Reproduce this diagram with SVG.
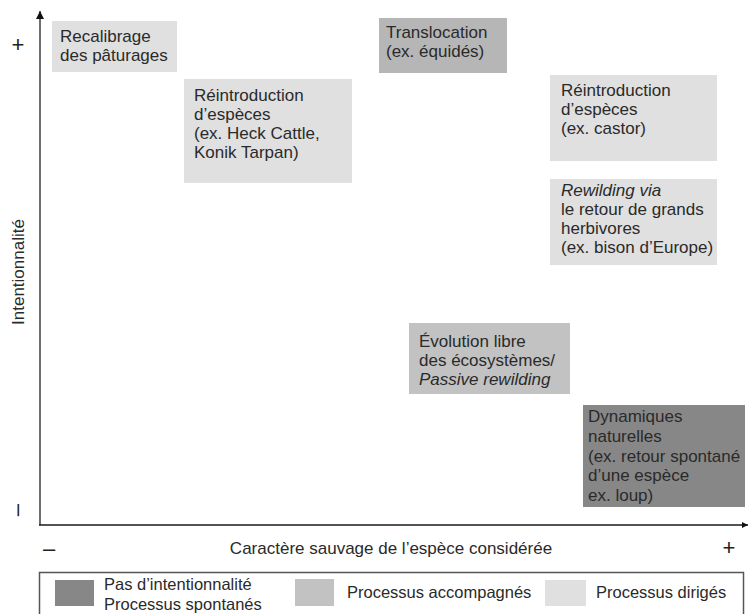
<svg xmlns="http://www.w3.org/2000/svg" width="748" height="614" viewBox="0 0 748 614">
<style>
text{font-family:"Liberation Sans",Arial,sans-serif;font-size:17px;fill:#2a2a2a}
.it{font-style:italic}
.sign{font-size:22px;fill:#222}
.light{fill:#e0e0e0}
.med{fill:#c2c2c2}
.med2{fill:#b6b6b6}
.dark{fill:#878787}
.lg{font-size:16.5px}
</style>
<defs>
<marker id="ah" viewBox="0 0 10 10" refX="10" refY="5" markerWidth="8" markerHeight="8" markerUnits="userSpaceOnUse" orient="auto">
<path d="M0,0 L10,5 L0,10 z" fill="#111"/>
</marker>
<marker id="ah2" viewBox="0 0 10 10" refX="10" refY="5" markerWidth="6" markerHeight="6" markerUnits="userSpaceOnUse" orient="auto">
<path d="M0,0 L10,5 L0,10 z" fill="#111"/>
</marker>
</defs>
<rect width="748" height="614" fill="#fff"/>

<g id="axes">
<line x1="40" y1="525" x2="40" y2="11" stroke="#6e6e6e" stroke-width="2" marker-end="url(#ah)"/>
<line x1="39" y1="525" x2="748" y2="525" stroke="#1a1a1a" stroke-width="1.6" marker-end="url(#ah2)"/>
</g>

<g id="axis-labels">
<text class="sign" x="18" y="52" text-anchor="middle">+</text>
<text class="sign" transform="translate(24,510) rotate(-90)" text-anchor="middle">–</text>
<text transform="translate(24,272) rotate(-90)" text-anchor="middle">Intentionnalité</text>
<text class="sign" x="49" y="556" text-anchor="middle">–</text>
<text x="391" y="554" text-anchor="middle">Caractère sauvage de l’espèce considérée</text>
<text class="sign" x="729" y="555" text-anchor="middle">+</text>
</g>

<g id="recalibrage">
<rect class="light" x="52" y="21" width="125" height="51"/>
<text x="60" y="42">Recalibrage</text>
<text x="60" y="61">des pâturages</text>
</g>

<g id="reintroduction-heck">
<rect class="light" x="184" y="79" width="168" height="104"/>
<text x="194" y="101">Réintroduction</text>
<text x="194" y="120">d’espèces</text>
<text x="194" y="139">(ex. Heck Cattle,</text>
<text x="194" y="158">Konik Tarpan)</text>
</g>

<g id="translocation">
<rect class="med2" x="379" y="18" width="128" height="55"/>
<text x="386" y="38">Translocation</text>
<text x="386" y="57">(ex. équidés)</text>
</g>

<g id="reintroduction-castor">
<rect class="light" x="550" y="75" width="167" height="86"/>
<text x="561" y="96">Réintroduction</text>
<text x="561" y="115">d’espèces</text>
<text x="561" y="134">(ex. castor)</text>
</g>

<g id="rewilding">
<rect class="light" x="550" y="179" width="167" height="86"/>
<text x="561" y="196" class="it">Rewilding via</text>
<text x="561" y="215">le retour de grands</text>
<text x="561" y="234">herbivores</text>
<text x="561" y="253">(ex. bison d’Europe)</text>
</g>

<g id="evolution">
<rect class="med" x="409" y="323" width="161" height="71"/>
<text x="419" y="347">Évolution libre</text>
<text x="419" y="366">des écosystèmes/</text>
<text x="419" y="385" class="it">Passive rewilding</text>
</g>

<g id="dynamiques">
<rect class="dark" x="583" y="405" width="162" height="102"/>
<text x="588" y="422">Dynamiques</text>
<text x="588" y="441.8">naturelles</text>
<text x="588" y="461.6">(ex. retour spontané</text>
<text x="588" y="481.4">d’une espèce</text>
<text x="588" y="501.2">ex. loup)</text>
</g>

<g id="legend">
<rect x="39.5" y="572.5" width="704" height="50" fill="none" stroke="#555" stroke-width="1.5"/>
<rect class="dark" x="55" y="580" width="39" height="26"/>
<text class="lg" x="104" y="590">Pas d’intentionnalité</text>
<text class="lg" x="104" y="610">Processus spontanés</text>
<rect class="med" x="295" y="579" width="39" height="27"/>
<text class="lg" x="347" y="598">Processus accompagnés</text>
<rect class="light" x="545" y="580" width="41" height="26"/>
<text class="lg" x="596" y="598">Processus dirigés</text>
</g>
</svg>
